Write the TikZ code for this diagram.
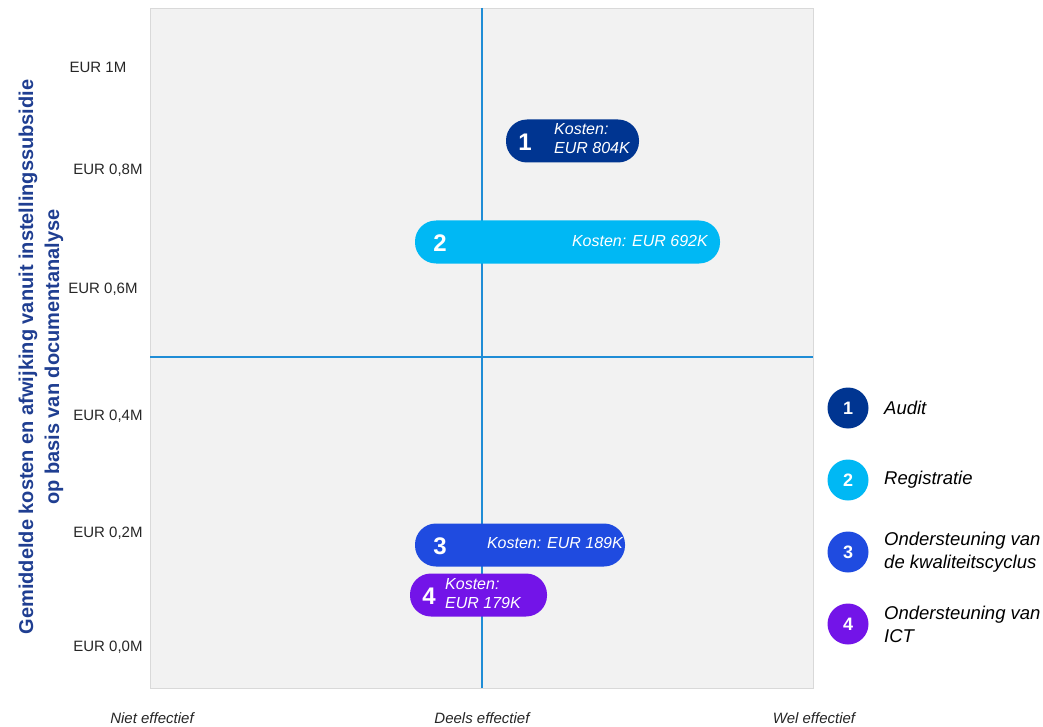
\documentclass[tikz,border=0pt]{standalone}
\usepackage{fontspec}
\setmainfont{Liberation Sans}
\usetikzlibrary{positioning}
\usepackage{xcolor}
\definecolor{navyaudit}{HTML}{003591}
\definecolor{cyanreg}{HTML}{00B8F4}
\definecolor{bluekwal}{HTML}{1F4BE0}
\definecolor{purpleict}{HTML}{7314E8}
\definecolor{axisblue}{HTML}{1F8DD6}
\definecolor{bggray}{HTML}{F2F2F2}
\definecolor{edgegray}{HTML}{D9D9D9}
\definecolor{titleblue}{HTML}{1F3E91}

\tikzset{
  pill/.style={rounded corners=21pt, minimum height=43pt, inner sep=0pt},
  pillnum/.style={text=white, inner sep=0pt, font=\fontsize{24}{24}\selectfont\bfseries},
  cost/.style={text=white, inner sep=0pt, align=left, font=\fontsize{16}{19}\selectfont\itshape},
  tick/.style={inner sep=0pt, text=black!85, font=\fontsize{15}{15}\selectfont},
  xlab/.style={inner sep=0pt, text=black!85, font=\fontsize{15}{15}\selectfont\itshape},
  dot/.style={circle, minimum size=41pt, inner sep=0pt, text=white, font=\fontsize{18}{18}\selectfont\bfseries},
  legtext/.style={anchor=west, align=left, inner sep=0pt, font=\fontsize{18.5}{23}\selectfont\itshape}
}

\begin{document}
\begin{tikzpicture}[x=1pt, y=-1pt]
\useasboundingbox (0,0) rectangle (1043,727);
\coordinate (O) at (482,357);
\coordinate (top) at (482,8);
\coordinate (bot) at (482,688);
\coordinate (lft) at (150,357);
\coordinate (rgt) at (813,357);
\draw[edgegray, fill=bggray] (150,8) rectangle (813,688);
\draw[axisblue, line width=1.6pt] (top) -- (bot);
\draw[axisblue, line width=1.6pt] (lft) -- (rgt);
% y ticks
\foreach \x/\y/\v [count=\i] in {98/67/1M, 108/170/{0,8M}, 103/289/{0,6M}, 108/416/{0,4M}, 108/533/{0,2M}, 108/647/{0,0M}} {
 \node[tick] (ytick\i) at (\x,\y) {EUR \v};
}
\node[rotate=90, align=center, inner sep=0pt, text=titleblue, font=\fontsize{20}{26}\selectfont\bfseries] (ytitle) at (41,357) {Gemiddelde kosten en afwijking vanuit instellingssubsidie\\op basis van documentanalyse};
% x labels
\node[xlab] (xniet) at (152,718) {Niet effectief};
\node[xlab] (xdeels) at (482,718) {Deels effectief};
\node[xlab] (xwel) at (814,718) {Wel effectief};
% pills
\node[pill, fill=navyaudit, minimum width=133pt] (p1) at (572.5,141) {};
\node[pillnum] (n1) at (525,142) {1};
\node[cost, anchor=west] (k1) at (554,139) {Kosten:\\EUR 804K};
\node[pill, fill=cyanreg, minimum width=305pt] (p2) at (567.5,242) {};
\node[pillnum] (n2) at (440,243) {2};
\node[cost, anchor=east] (k2) at (708,241) {Kosten: EUR 692K};
\node[pill, fill=bluekwal, minimum width=210pt] (p3) at (520,545) {};
\node[pillnum] (n3) at (440,546) {3};
\node[cost, anchor=east] (k3) at (623,543) {Kosten: EUR 189K};
\node[pill, fill=purpleict, minimum width=137pt] (p4) at (478.5,595) {};
\node[pillnum] (n4) at (429,596) {4};
\node[cost, anchor=west] (k4) at (445,594) {Kosten:\\EUR 179K};
% legend
\foreach \i/\y/\c/\t in {1/408/navyaudit/Audit, 2/480/cyanreg/Registratie, 3/552/bluekwal/{Ondersteuning van\\de kwaliteitscyclus}, 4/624/purpleict/{Ondersteuning van\\ICT}} {
 \node[dot, fill=\c] (d\i) at (848,\y) {\i};
 \node[legtext] (l\i) at (884,\y) {\t};
}
\end{tikzpicture}
\end{document}
